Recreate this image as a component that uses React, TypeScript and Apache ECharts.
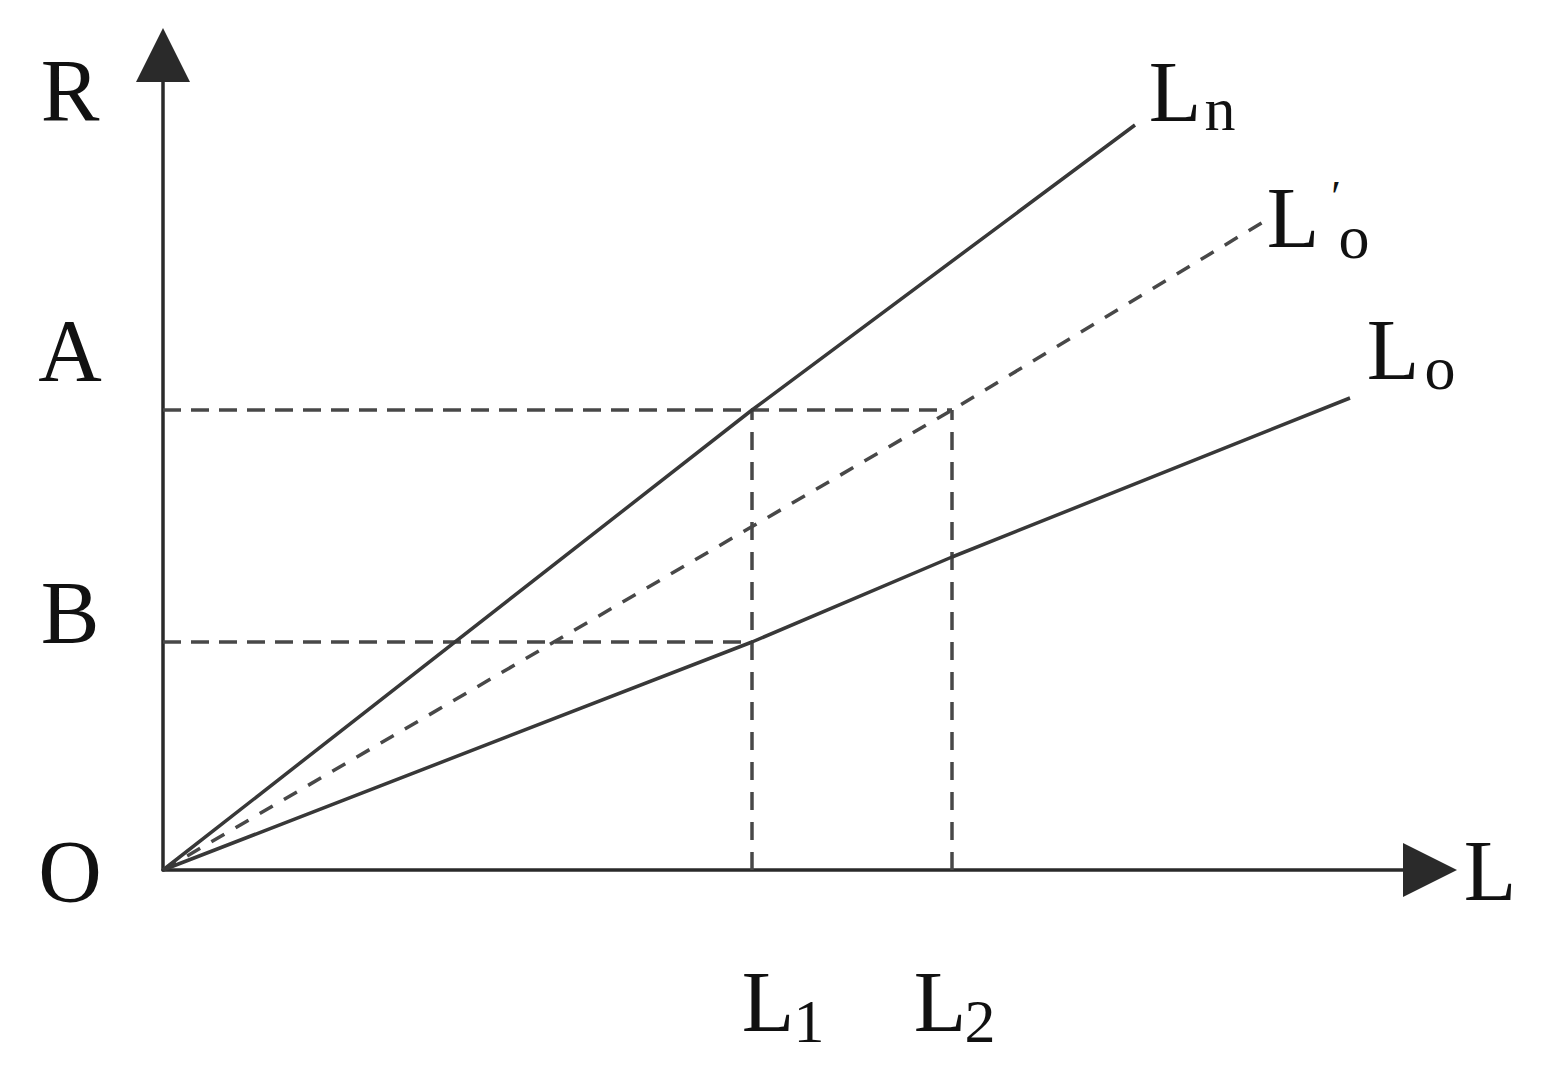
import React, { useEffect, useRef } from "react";
import * as echarts from "echarts";

// Values in chart units (origin O = 0,0)
const L1 = 589;
const L2 = 789;
const A = 460;
const B = 228;
const X_MAX = 1267;
const Y_MAX = 815;

const lineLn: number[][] = [[0, 0], [589, 460], [972, 745]];
const lineLoPrime: number[][] = [[0, 0], [789, 460], [1100, 648]];
const lineLo: number[][] = [[0, 0], [589, 228], [789, 313], [1187, 472]];

const guideA: number[][] = [[0, A], [L2, A]];
const guideB: number[][] = [[0, B], [L1, B]];
const guideL1: number[][] = [[L1, 0], [L1, A]];
const guideL2: number[][] = [[L2, 0], [L2, A]];

const FONT = "Liberation Serif";
const INK = "#111111";
const LINE = "#383838";

function txt(text: string, x: number, y: number, size: number) {
  return {
    type: "text",
    x,
    y,
    style: {
      text,
      fontFamily: FONT,
      fontSize: size,
      fill: INK,
      align: "center",
      verticalAlign: "middle",
    },
  };
}

export default function App() {
  const ref = useRef<HTMLDivElement>(null);
  useEffect(() => {
    if (!ref.current) return;
    const chart = echarts.init(ref.current, undefined, { renderer: "svg" });
    const solid = (data: number[][], name: string) => ({
      type: "line",
      name,
      data,
      showSymbol: false,
      symbol: "none",
      lineStyle: { color: LINE, width: 3.5 },
      z: 3,
    });
    const dashed = (data: number[][], name: string, dash: number[]) => ({
      type: "line",
      name,
      data,
      showSymbol: false,
      symbol: "none",
      lineStyle: { color: "#484848", width: 3.5, type: dash },
      z: 2,
    });
    const axisCommon = {
      type: "value",
      axisLine: {
        show: true,
        symbol: ["none", "triangle"],
        symbolSize: [54, 54],
        lineStyle: { color: "#2a2a2a", width: 3.5 },
      },
      axisTick: { show: false },
      axisLabel: { show: false },
      splitLine: { show: false },
    };
    chart.setOption({
      animation: false,
      backgroundColor: "#ffffff",
      grid: { left: 163, top: 55, right: 114, bottom: 202, containLabel: false },
      xAxis: { ...axisCommon, min: 0, max: X_MAX },
      yAxis: { ...axisCommon, min: 0, max: Y_MAX },
      series: [
        dashed(guideA, "A", [18, 10]),
        dashed(guideB, "B", [18, 10]),
        dashed(guideL1, "L1", [18, 12]),
        dashed(guideL2, "L2", [18, 12]),
        dashed(lineLoPrime, "L'o", [15, 13]),
        solid(lineLn, "Ln"),
        solid(lineLo, "Lo"),
      ],
      graphic: [
        txt("R", 70, 90, 88),
        txt("A", 70, 350, 88),
        txt("B", 70, 612, 88),
        txt("O", 70, 871, 88),
        txt("L", 1490, 871, 86),
        txt("L", 1175, 92, 86),
        txt("n", 1220, 109, 62),
        txt("L", 1293, 218, 86),
        txt("\u2032", 1336, 196, 44),
        txt("o", 1354, 237, 62),
        txt("L", 1393, 350, 86),
        txt("o", 1440, 368, 62),
        txt("L", 768, 1002, 86),
        txt("1", 809, 1021, 62),
        txt("L", 940, 1002, 86),
        txt("2", 980, 1021, 62),
      ],
    });
    return () => chart.dispose();
  }, []);
  return (
    <div
      ref={ref}
      style={{ position: "absolute", left: 0, top: 0, width: 1544, height: 1072, background: "#fff" }}
    />
  );
}
